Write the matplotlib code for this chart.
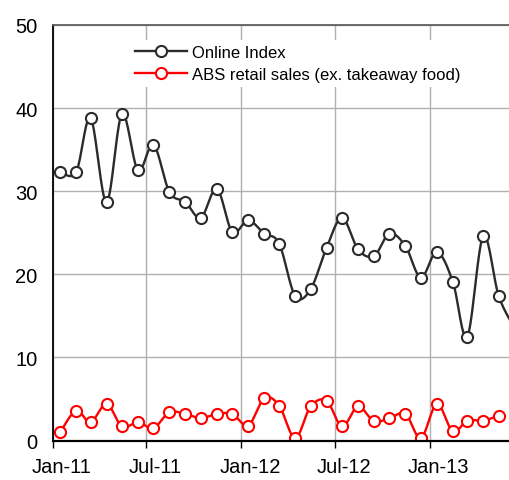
import numpy as np
import matplotlib
matplotlib.use("Agg")
import matplotlib.pyplot as plt
import matplotlib.dates as mdates
import matplotlib.transforms as mtransforms
import datetime as dt

plt.rcParams['font.family'] = ['Liberation Sans', 'DejaVu Sans']

# Monthly observations, Jan-2011 .. Jun-2013 (plotted at mid-month)
months = [dt.date(2011 + (i // 12), i % 12 + 1, 15) for i in range(30)]
online_index = [32.3, 32.3, 38.8, 28.7, 39.3, 32.5, 35.6, 29.9, 28.7, 26.8, 30.3, 25.1,
                26.5, 24.9, 23.7, 17.4, 18.2, 23.2, 26.8, 23.0, 22.2, 24.9, 23.4, 19.6,
                22.7, 19.1, 12.5, 24.6, 17.4, 13.5]
abs_retail = [1.0, 3.6, 2.2, 4.4, 1.7, 2.2, 1.5, 3.4, 3.2, 2.7, 3.2, 3.2,
              1.8, 5.1, 4.2, 0.3, 4.1, 4.8, 1.7, 4.1, 2.3, 2.7, 3.2, 0.3,
              4.4, 1.1, 2.4, 2.4, 3.0]
tick_dates = [dt.date(2011, 1, 1), dt.date(2011, 7, 1), dt.date(2012, 1, 1),
              dt.date(2012, 7, 1), dt.date(2013, 1, 1)]
tick_labels = ['Jan-11', 'Jul-11', 'Jan-12', 'Jul-12', 'Jan-13']
series_names = ['Online Index', 'ABS retail sales (ex. takeaway food)']
x_end = dt.date(2013, 6, 4)


def smooth(x, y, n=20):
    x = np.asarray(x, float)
    y = np.asarray(y, float)
    px = np.concatenate([[x[0]], x, [x[-1]]])
    py = np.concatenate([[y[0]], y, [y[-1]]])
    xs, ys = [], []
    t = np.linspace(0, 1, n)
    for i in range(1, len(px) - 2):
        p0 = np.array([px[i], py[i]])
        p3 = np.array([px[i + 1], py[i + 1]])
        c1 = p0 + (np.array([px[i + 1], py[i + 1]]) - np.array([px[i - 1], py[i - 1]])) / 6
        c2 = p3 - (np.array([px[i + 2], py[i + 2]]) - np.array([px[i], py[i]])) / 6
        b = ((1 - t) ** 3)[:, None] * p0 + (3 * (1 - t) ** 2 * t)[:, None] * c1 + \
            (3 * (1 - t) * t ** 2)[:, None] * c2 + (t ** 3)[:, None] * p3
        xs.extend(b[:, 0]); ys.extend(b[:, 1])
    return np.array(xs), np.array(ys)


fig = plt.figure(figsize=(5.09, 4.81), dpi=100)
ax = fig.add_axes([0.104, 0.082, 0.896, 0.864])

xn_on = mdates.date2num(months[:len(online_index)])
xn_abs = mdates.date2num(months[:len(abs_retail)])
xlim_hi = mdates.date2num(x_end)

sty = dict(ms=8, mfc='white', mew=1.5)
for xn, vals, col, name in [(xn_on, online_index, '#2b2b2b', series_names[0]),
                            (xn_abs, abs_retail, '#ff0000', series_names[1])]:
    sx, sy = smooth(xn, vals)
    ax.plot(sx, sy, color=col, lw=1.7, zorder=3)
    vals = np.asarray(vals)
    inside = xn <= xlim_hi
    ax.plot(xn[inside], vals[inside], linestyle='none', marker='o', mec=col, zorder=4, **sty)
    ax.plot([], [], color=col, lw=1.7, marker='o', mec=col, label=name, **sty)

ax.set_xlim(mdates.date2num(dt.date(2011, 1, 1)), xlim_hi)
ax.set_ylim(0, 50)
ax.set_yticks([0, 10, 20, 30, 40, 50])
ax.set_xticks(mdates.date2num(tick_dates))
ax.set_xticklabels(tick_labels)
ax.tick_params(axis='y', length=0, labelsize=14.5, pad=11)
ax.tick_params(axis='x', length=5, direction='out', labelsize=14.5, pad=7, width=1)
shift = mtransforms.ScaledTranslation(9 / 100, 0, fig.dpi_scale_trans)
for lab in ax.get_xticklabels():
    lab.set_transform(lab.get_transform() + shift)
ax.grid(True, color='#b0b0b0', lw=1)
ax.set_axisbelow(True)
ax.spines['left'].set_color('black'); ax.spines['left'].set_linewidth(1.3)
ax.spines['bottom'].set_color('black'); ax.spines['bottom'].set_linewidth(1.6)
ax.spines['top'].set_color('#606060'); ax.spines['top'].set_linewidth(1.3)
ax.spines['right'].set_visible(False)
ax.spines['bottom'].set_zorder(5)

leg = ax.legend(loc='upper left', bbox_to_anchor=(0.169, 0.965), frameon=True, fontsize=12,
                handlelength=3.1, handletextpad=0.3, borderpad=0.3, labelspacing=0.45,
                borderaxespad=0)
leg.get_frame().set_facecolor('white')
leg.get_frame().set_edgecolor('none')
leg.get_frame().set_alpha(1)

fig.savefig('out.png', dpi=100)
